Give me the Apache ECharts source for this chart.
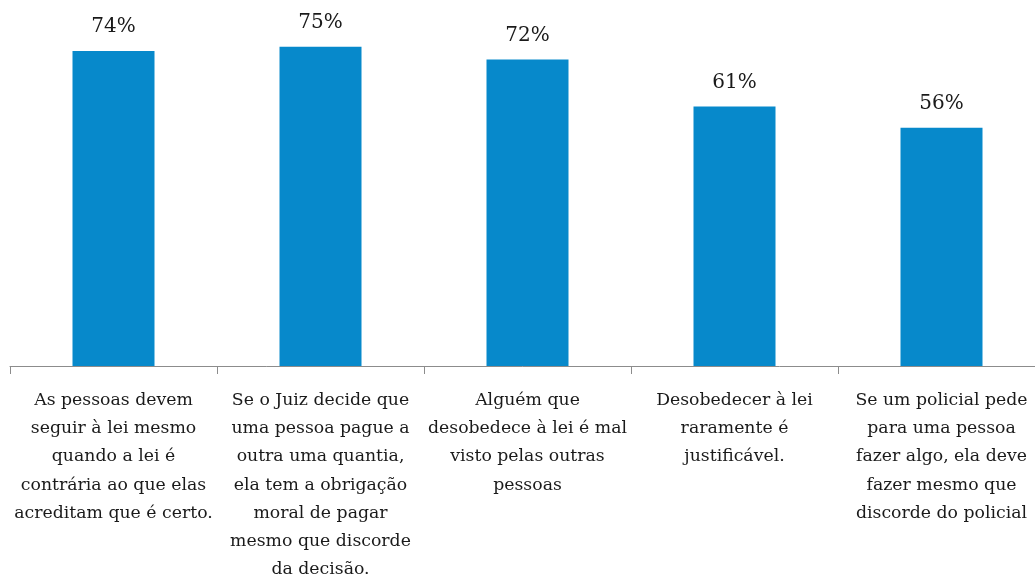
<!DOCTYPE html>
<html>
<head>
<meta charset="utf-8">
<script src="https://cdn.jsdelivr.net/npm/echarts@6/dist/echarts.min.js"></script>
<style>
  html, body { margin: 0; padding: 0; background: #fff; }
  #chart { width: 1035px; height: 579px; }
</style>
</head>
<body>
<div id="chart"></div>
<script>
// categorias (quebras de linha como no original)
const categorias = [
  "As pessoas devem\nseguir à lei mesmo\nquando a lei é\ncontrária ao que elas\nacreditam que é certo.",
  "Se o Juiz decide que\numa pessoa pague a\noutra uma quantia,\nela tem a obrigação\nmoral de pagar\nmesmo que discorde\nda decisão.",
  "Alguém que\ndesobedece à lei é mal\nvisto pelas outras\npessoas",
  "Desobedecer à lei\nraramente é\njustificável.",
  "Se um policial pede\npara uma pessoa\nfazer algo, ela deve\nfazer mesmo que\ndiscorde do policial"
];
const valores = [74, 75, 72, 61, 56];

const fonte = "'DejaVu Serif', 'Liberation Serif', serif";

const chart = echarts.init(document.getElementById('chart'));
const option = {
  animation: false,
  grid: {
    left: 10,
    top: 0,
    width: 1035,
    bottom: 213,
    containLabel: false,
    outerBoundsMode: 'none'
  },
  xAxis: {
    type: 'category',
    data: categorias,
    axisLine: { lineStyle: { color: '#8c8c8c', width: 1 } },
    axisTick: { show: true, length: 8, lineStyle: { color: '#8c8c8c' } },
    axisLabel: {
      interval: 0,
      margin: 20,
      color: '#1a1a1a',
      fontFamily: fonte,
      fontSize: 17.3,
      lineHeight: 28.3,
      align: 'center'
    }
  },
  yAxis: {
    type: 'value',
    min: 0,
    max: 86,
    show: false,
    splitLine: { show: false }
  },
  series: [
    {
      type: 'bar',
      data: valores,
      barWidth: 82,
      itemStyle: { color: '#0789cb' },
      label: {
        show: true,
        position: 'top',
        distance: 14,
        formatter: '{c}%',
        color: '#1a1a1a',
        fontFamily: fonte,
        fontSize: 20
      }
    }
  ]
};
chart.setOption(option);
</script>
</body>
</html>
